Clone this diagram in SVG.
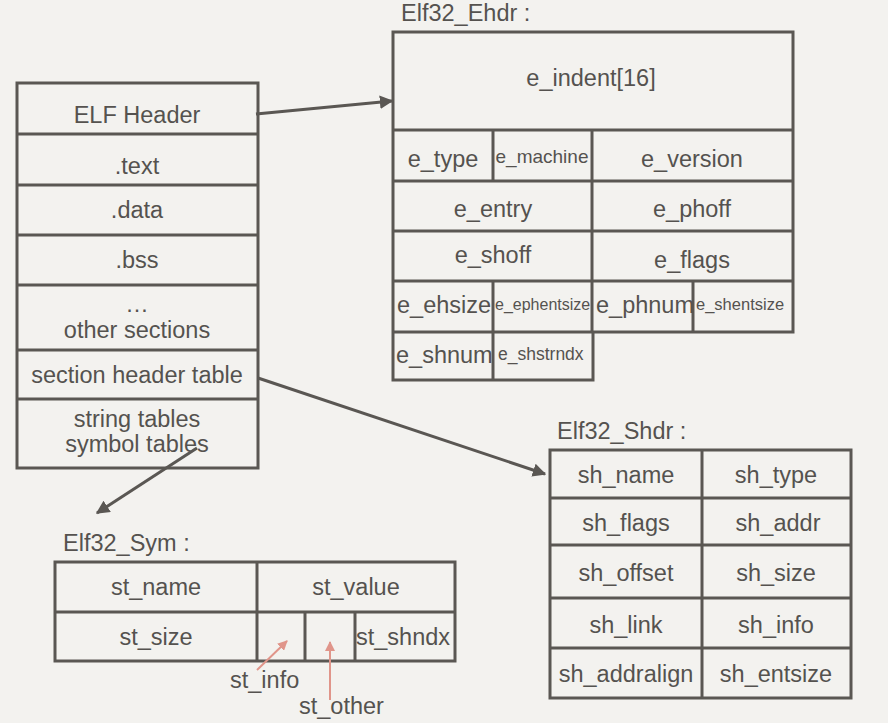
<svg xmlns="http://www.w3.org/2000/svg" width="888" height="723" viewBox="0 0 888 723">
<defs>
<style>
.bx{fill:none;stroke:#5a5753;stroke-width:3}
.ln{stroke:#5a5753;stroke-width:3;fill:none}
text{font-family:"Liberation Sans",Arial,sans-serif;fill:#55524f;font-size:23.5px}
.c{text-anchor:middle}
.s{font-size:16px}
.s2{font-size:16.5px}
.s3{font-size:17.5px}
.m{font-size:19px}
.con{stroke:#5a5753;stroke-width:3;fill:none}
.red{stroke:#e0958a;stroke-width:2;fill:none}
</style>
<marker id="ah" viewBox="0 0 10 10" refX="9" refY="5" markerWidth="4.5" markerHeight="4.5" orient="auto" markerUnits="strokeWidth">
<path d="M0,0 L10,5 L0,10 z" fill="#5a5753"/>
</marker>
<marker id="rh" viewBox="0 0 10 10" refX="9" refY="5" markerWidth="5" markerHeight="5" orient="auto" markerUnits="strokeWidth">
<path d="M0,0 L10,5 L0,10 z" fill="#e0958a"/>
</marker>
</defs>
<rect width="888" height="723" fill="#f3f2ef"/>

<g id="elf-file">
<rect class="bx" x="17" y="83" width="241" height="385"/>
<line class="ln" x1="17" y1="134" x2="258" y2="134"/>
<line class="ln" x1="17" y1="185" x2="258" y2="185"/>
<line class="ln" x1="17" y1="235" x2="258" y2="235"/>
<line class="ln" x1="17" y1="285" x2="258" y2="285"/>
<line class="ln" x1="17" y1="350" x2="258" y2="350"/>
<line class="ln" x1="17" y1="399" x2="258" y2="399"/>
<text class="c" x="137" y="123">ELF Header</text>
<text class="c" x="137" y="174">.text</text>
<text class="c" x="137" y="218">.data</text>
<text class="c" x="137" y="268">.bss</text>
<text class="c" x="137" y="312">…</text>
<text class="c" x="137" y="338">other sections</text>
<text class="c" x="137" y="383">section header table</text>
<text class="c" x="137" y="427">string tables</text>
<text class="c" x="137" y="452">symbol tables</text>
</g>

<g id="ehdr">
<text x="401" y="21">Elf32_Ehdr :</text>
<path class="ln" d="M393,32 H793 V332 H593 V380 H393 Z"/>
<line class="ln" x1="393" y1="130" x2="793" y2="130"/>
<line class="ln" x1="393" y1="181" x2="793" y2="181"/>
<line class="ln" x1="393" y1="231" x2="793" y2="231"/>
<line class="ln" x1="393" y1="281" x2="793" y2="281"/>
<line class="ln" x1="393" y1="332" x2="593" y2="332"/>
<line class="ln" x1="493" y1="130" x2="493" y2="181"/>
<line class="ln" x1="592" y1="130" x2="592" y2="332"/>
<line class="ln" x1="493" y1="281" x2="493" y2="380"/>
<line class="ln" x1="693" y1="281" x2="693" y2="332"/>
<text class="c" x="591" y="86">e_indent[16]</text>
<text class="c" x="443" y="167">e_type</text>
<text class="c m" x="542" y="163">e_machine</text>
<text class="c" x="692" y="167">e_version</text>
<text class="c" x="493" y="217">e_entry</text>
<text class="c" x="692" y="217">e_phoff</text>
<text class="c" x="493" y="263">e_shoff</text>
<text class="c" x="692" y="268">e_flags</text>
<text x="397" y="313">e_ehsize</text>
<text class="s" x="495" y="310">e_ephentsize</text>
<text x="596" y="313">e_phnum</text>
<text class="s2" x="696" y="310">e_shentsize</text>
<text x="396" y="363">e_shnum</text>
<text class="s3" x="498" y="360">e_shstrndx</text>
</g>

<g id="shdr">
<text x="557" y="439">Elf32_Shdr :</text>
<rect class="bx" x="550" y="450" width="301" height="248"/>
<line class="ln" x1="550" y1="498" x2="851" y2="498"/>
<line class="ln" x1="550" y1="545" x2="851" y2="545"/>
<line class="ln" x1="550" y1="598" x2="851" y2="598"/>
<line class="ln" x1="550" y1="648" x2="851" y2="648"/>
<line class="ln" x1="702" y1="450" x2="702" y2="698"/>
<text class="c" x="626" y="483">sh_name</text>
<text class="c" x="776" y="483">sh_type</text>
<text class="c" x="626" y="531">sh_flags</text>
<text class="c" x="778" y="531">sh_addr</text>
<text class="c" x="626" y="581">sh_offset</text>
<text class="c" x="776" y="581">sh_size</text>
<text class="c" x="626" y="633">sh_link</text>
<text class="c" x="776" y="633">sh_info</text>
<text class="c" x="626" y="682">sh_addralign</text>
<text class="c" x="776" y="682">sh_entsize</text>
</g>

<g id="sym">
<text x="63" y="551">Elf32_Sym :</text>
<rect class="bx" x="55" y="562" width="400" height="99"/>
<line class="ln" x1="55" y1="612" x2="455" y2="612"/>
<line class="ln" x1="257" y1="562" x2="257" y2="661"/>
<line class="ln" x1="305" y1="612" x2="305" y2="661"/>
<line class="ln" x1="355" y1="612" x2="355" y2="661"/>
<text class="c" x="156" y="595">st_name</text>
<text class="c" x="356" y="595">st_value</text>
<text class="c" x="156" y="645">st_size</text>
<text x="356" y="645">st_shndx</text>
<text x="230" y="688">st_info</text>
<text x="299" y="714">st_other</text>
</g>

<g id="connectors">
<line class="con" x1="256" y1="114" x2="392" y2="101" marker-end="url(#ah)"/>
<line class="con" x1="258" y1="378" x2="545" y2="474" marker-end="url(#ah)"/>
<line class="con" x1="197" y1="448" x2="97" y2="513" marker-end="url(#ah)"/>
<line class="red" x1="257" y1="670" x2="287" y2="641" marker-end="url(#rh)"/>
<line class="red" x1="330" y1="700" x2="330" y2="642" marker-end="url(#rh)"/>
</g>
</svg>
